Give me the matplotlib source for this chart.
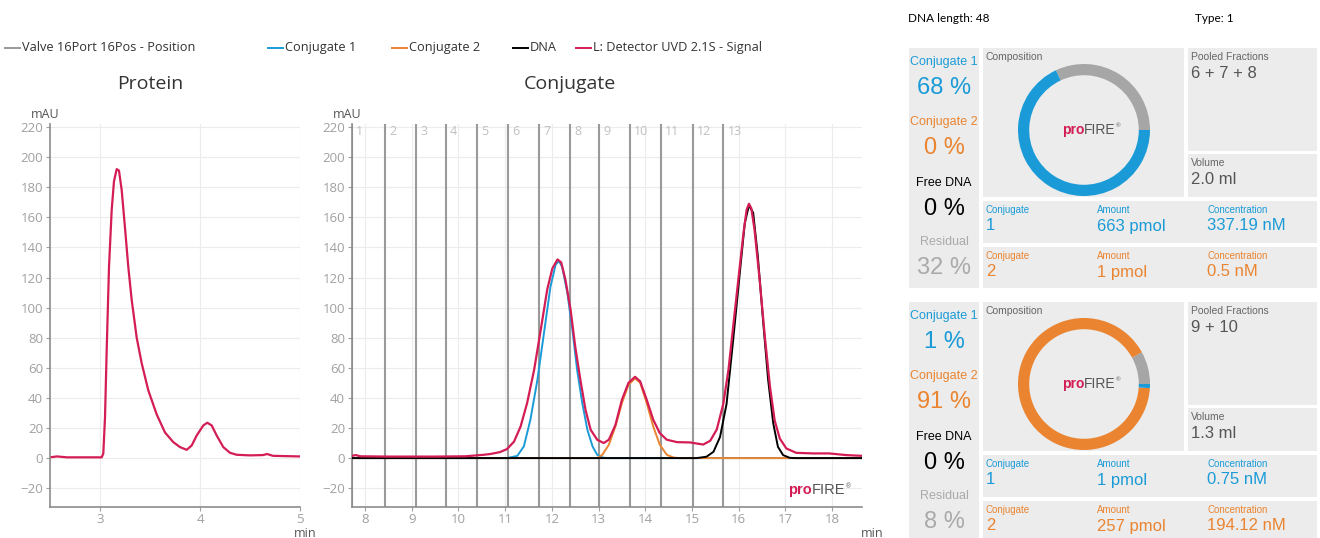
import matplotlib
matplotlib.use("Agg")
import matplotlib.pyplot as plt
from matplotlib.patches import Rectangle

plt.rcParams['font.family'] = ['Open Sans', 'DejaVu Sans']

# =========================
# CHROMATOGRAM DATA
# =========================

protein_time = [2.50, 2.57, 2.67, 2.98, 3.017, 3.033, 3.05, 3.067, 3.09, 3.117, 3.14, 3.167,
                3.19, 3.217, 3.25, 3.283, 3.317, 3.367, 3.417, 3.483, 3.567, 3.65, 3.733,
                3.80, 3.867, 3.917, 3.967, 4.033, 4.073, 4.117, 4.167, 4.233, 4.30, 4.367,
                4.50, 4.63, 4.67, 4.73, 5.00]
protein_signal = [0.5, 1.1, 0.5, 0.5, 0.5, 3, 27, 72, 127, 165, 184, 192,
                  191, 178, 153, 127, 105, 80, 63, 45, 29, 17, 10.6,
                  7.3, 5.5, 8.4, 15, 21.7, 23.5, 21.7, 15, 7.3, 3.5, 2.2,
                  1.8, 2.0, 2.7, 1.5, 1.1]

signal_time = [7.72, 7.80, 7.90, 8.50, 9.50, 10.15, 10.54, 10.68, 10.89, 11.04, 11.19, 11.33,
               11.47, 11.62, 11.76, 11.90, 12.01, 12.12, 12.20, 12.29, 12.40, 12.50, 12.61,
               12.72, 12.83, 12.97, 13.11, 13.22, 13.36, 13.50, 13.64, 13.78, 13.89, 14.03,
               14.17, 14.31, 14.46, 14.68, 14.96, 15.24, 15.39, 15.53, 15.67, 15.78, 15.88,
               15.99, 16.10, 16.17, 16.22, 16.27, 16.34, 16.45, 16.56, 16.67, 16.77, 16.88,
               17.02, 17.23, 17.59, 17.94, 18.30, 18.64]
signal_value = [1.5, 2.0, 1.2, 1.0, 1.0, 1.2, 2.2, 2.7, 4, 6, 11, 21,
                36.6, 58.7, 85, 112, 126, 132, 130, 118.5, 98.6, 74, 52,
                32, 18.8, 12.2, 10, 12.2, 22, 38.8, 50, 54, 51, 38.8,
                25.5, 16.6, 12.2, 10.6, 10.4, 9, 11.5, 19, 36, 58.5, 87,
                118, 149, 165, 169, 166, 151.5, 118, 80.6, 47.4, 25, 13,
                6.4, 3.5, 3.1, 3.1, 2, 1.5]

conj1_time = [7.72, 11.04, 11.26, 11.40, 11.54, 11.69, 11.83, 11.97, 12.08, 12.15, 12.22,
              12.33, 12.44, 12.54, 12.65, 12.76, 12.87, 12.97, 13.08, 13.18, 18.64]
conj1_value = [0, 0, 1.5, 7.8, 25.5, 52, 83, 114, 128.5, 131, 127,
               110, 85, 58.7, 36.6, 18.8, 7.8, 2.2, 0.4, 0, 0]

conj2_time = [7.72, 12.97, 13.08, 13.22, 13.36, 13.50, 13.64, 13.78, 13.89, 14.03, 14.17,
              14.31, 14.46, 14.60, 14.72, 18.64]
conj2_value = [0, 0, 2.2, 8.9, 21, 36.6, 48.7, 53, 50, 36.6, 21,
               8.9, 2.2, 0.4, 0, 0]

dna_time = [7.72, 15.10, 15.31, 15.46, 15.60, 15.74, 15.88, 16.03, 16.13, 16.22, 16.31,
            16.41, 16.52, 16.63, 16.74, 16.84, 16.95, 17.09, 17.20, 18.64]
dna_value = [0, 0, 0.9, 4.2, 14, 36, 78, 125, 156, 168, 163,
             134, 92, 52, 23, 7.5, 2, 0.2, 0, 0]

fraction_starts = [7.72, 8.43, 9.09, 9.73, 10.40, 11.06, 11.73, 12.39, 13.01, 13.67, 14.34, 15.02, 15.67]
fraction_labels = [str(i) for i in range(1, 14)]

# =========================
# RESULT PANEL DATA
# =========================

header_left = "DNA length: 48"
header_right = "Type: 1"

pct_conj1 = [68, 1]
pct_conj2 = [0, 91]
pct_free = [0, 0]
pct_residual = [32, 8]
pooled = ["6 + 7 + 8", "9 + 10"]
volume = ["2.0 ml", "1.3 ml"]
amount_conj1 = ["663 pmol", "1 pmol"]
amount_conj2 = ["1 pmol", "257 pmol"]
conc_conj1 = ["337.19 nM", "0.75 nM"]
conc_conj2 = ["0.5 nM", "194.12 nM"]

RED = "#d41c55"
BLUE = "#1a9bd7"
ORANGE = "#ea8430"
GRAY = "#a6a6a6"
BOX = "#ececec"

W, H = 1320, 538
fig = plt.figure(figsize=(W / 100, H / 100), dpi=100)

# overlay in pixel coordinates for legend and panels
ov = fig.add_axes([0, 0, 1, 1])
ov.set_xlim(0, W)
ov.set_ylim(H, 0)
ov.axis("off")

# =========================
# LEGEND
# =========================

legend_items = [("Valve 16Port 16Pos - Position", "#999999", 5),
                ("Conjugate 1", BLUE, 268),
                ("Conjugate 2", ORANGE, 392),
                ("DNA", "black", 513),
                ("L: Detector UVD 2.1S - Signal", RED, 576)]
for label, col, x0 in legend_items:
    ov.plot([x0, x0 + 15], [47.5, 47.5], color=col, lw=1.4)
    ov.text(x0 + 17, 47.5, label, va="center", ha="left", fontsize=9.2, color="#333333")


def profire(ax, x, y, size, transform):
    t1 = ax.text(x, y, "pro", ha="right", va="center", fontsize=size, fontweight="bold",
                 color=RED, family="Liberation Sans", transform=transform)
    t2 = ax.annotate("FIRE", xy=(1, 0), xycoords=t1, ha="left", va="bottom",
                     fontsize=size, color="#555555", family="Liberation Sans")
    ax.annotate("\u00ae", xy=(1, 1), xycoords=t2, ha="left", va="top",
                fontsize=size * 0.45, color="#555555", family="Liberation Sans")


def style_axis(ax, xlim, xticks):
    ax.set_xlim(*xlim)
    ax.set_ylim(-32.5, 222)
    ax.set_xticks(xticks)
    ax.set_yticks(range(-20, 221, 20))
    ax.grid(True, color="#ececec", lw=0.8)
    ax.set_axisbelow(True)
    for s in ["top", "right"]:
        ax.spines[s].set_visible(False)
    for s in ["left", "bottom"]:
        ax.spines[s].set_color("#8c8c8c")
        ax.spines[s].set_linewidth(1.2)
    ax.tick_params(colors="#a0a0a0", labelsize=9.5, length=3, pad=2)
    ax.tick_params(axis="x", pad=1)


# =========================
# PROTEIN CHART
# =========================

ax1 = fig.add_axes([50 / W, 31 / H, 250 / W, 383 / H])
style_axis(ax1, (2.5, 5), [3, 4, 5])
ax1.plot(protein_time, protein_signal, color=RED, lw=1.6)
ax1.text(-0.02, 1.025, "mAU", transform=ax1.transAxes, ha="center", va="center",
         fontsize=9, color="#555555")
ax1.text(1.02, -0.07, "min", transform=ax1.transAxes, ha="center", va="center",
         fontsize=9, color="#555555")
ov.text(150, 84, "Protein", ha="center", va="center", fontsize=14, color="#333333")

# =========================
# CONJUGATE CHART
# =========================

ax2 = fig.add_axes([352 / W, 31 / H, 510 / W, 383 / H])
style_axis(ax2, (7.72, 18.64), range(8, 19))
ax2.vlines(fraction_starts, -32.5, 222, color="#9a9a9a", lw=1.5, zorder=1)
for xs, lab in zip(fraction_starts, fraction_labels):
    ax2.annotate(lab, xy=(xs, 217), xytext=(3, 0), textcoords="offset points",
                 ha="left", va="center", fontsize=9, color="#c0c0c0")
ax2.plot(conj1_time, conj1_value, color=BLUE, lw=1.4, zorder=2)
ax2.plot(conj2_time, conj2_value, color=ORANGE, lw=1.4, zorder=3)
ax2.plot(dna_time, dna_value, color="black", lw=1.4, zorder=4)
ax2.plot(signal_time, signal_value, color=RED, lw=1.6, zorder=5)
ax2.text(-0.01, 1.025, "mAU", transform=ax2.transAxes, ha="center", va="center",
         fontsize=9, color="#555555")
ax2.text(1.02, -0.07, "min", transform=ax2.transAxes, ha="center", va="center",
         fontsize=9, color="#555555")
profire(ax2, 0.902, 0.044, 10.5, ax2.transAxes)
ov.text(570, 84, "Conjugate", ha="center", va="center", fontsize=14, color="#333333")

# =========================
# RESULT PANELS
# =========================

ov.text(908, 18, header_left, ha="left", va="center", fontsize=8.5, family="Lato")
ov.text(1195, 18, header_right, ha="left", va="center", fontsize=8.5, family="Lato")

PF = "Liberation Sans"
for g in range(2):
    dy = 254 * g
    for (x, y, w, h) in [(909, 48, 70, 240), (983, 48, 201, 149), (1188, 48, 129, 103),
                         (1188, 154, 129, 43), (983, 201, 334, 42), (983, 247, 334, 41)]:
        ov.add_patch(Rectangle((x, y + dy), w, h, facecolor=BOX, edgecolor="none"))

    left_col = [("Conjugate 1", 62, BLUE, 9), (f"{pct_conj1[g]} %", 88, BLUE, 17),
                ("Conjugate 2", 122, ORANGE, 9), (f"{pct_conj2[g]} %", 148, ORANGE, 17),
                ("Free DNA", 183, "black", 9), (f"{pct_free[g]} %", 209, "black", 17),
                ("Residual", 242, "#aaaaaa", 9), (f"{pct_residual[g]} %", 268, "#aaaaaa", 17)]
    for txt, y, col, fs in left_col:
        ov.text(944, y + dy, txt, ha="center", va="center", fontsize=fs, color=col, family=PF)

    ov.text(986, 57 + dy, "Composition", fontsize=7.5, color="#666666", va="center", family=PF)
    ov.text(1191, 57 + dy, "Pooled Fractions", fontsize=7.5, color="#666666", va="center", family=PF)
    ov.text(1191, 73 + dy, pooled[g], fontsize=12, color="#555555", va="center", family=PF)
    ov.text(1191, 163 + dy, "Volume", fontsize=7.5, color="#666666", va="center", family=PF)
    ov.text(1191, 179 + dy, volume[g], fontsize=12, color="#555555", va="center", family=PF)

    rows = [(BLUE, "1", amount_conj1[g], conc_conj1[g], 210),
            (ORANGE, "2", amount_conj2[g], conc_conj2[g], 256)]
    for col, num, amt, conc, y in rows:
        for x, lab, val in [(986, "Conjugate", num), (1097, "Amount", amt), (1207, "Concentration", conc)]:
            ov.text(x, y + dy, lab, fontsize=7, color=col, va="center", family=PF)
            ov.text(x, y + 16 + dy, val, fontsize=12, color=col, va="center", family=PF)

    # donut
    cx, cy, r = 1084, 130 + dy, 66
    dax = fig.add_axes([(cx - r) / W, (H - cy - r) / H, 2 * r / W, 2 * r / H])
    vals = [pct_residual[g], pct_free[g], pct_conj2[g], pct_conj1[g]]
    cols = [GRAY, "black", ORANGE, BLUE]
    keep = [i for i, v in enumerate(vals) if v > 0]
    dax.pie([vals[i] for i in keep], colors=[cols[i] for i in keep], startangle=0,
            counterclock=True, radius=1, wedgeprops=dict(width=0.17, edgecolor="none"))
    dax.set_xlim(-1, 1)
    dax.set_ylim(-1, 1)
    profire(dax, 0.0, 0.0, 10, dax.transData)

fig.savefig("out.png", dpi=100)
